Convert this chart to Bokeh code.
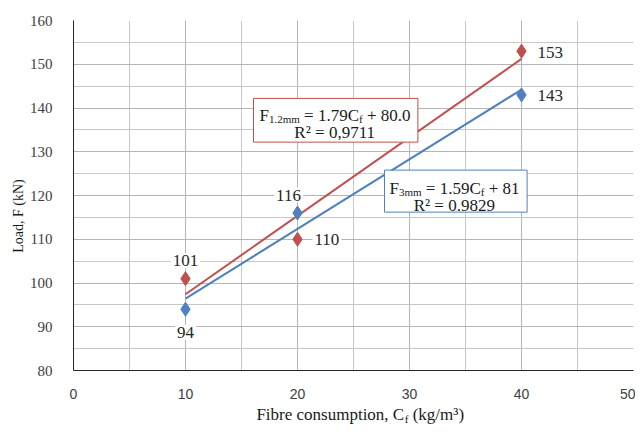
import numpy as np
from bokeh.plotting import figure
from bokeh.layouts import column, row
from bokeh.models import FixedTicker, Label, BoxAnnotation, Range1d
from bokeh.embed import file_html
from bokeh.resources import INLINE
from bokeh.core.properties import value

# ---- data ----
fibre = [10, 20, 40]
load_3mm = [94, 116, 143]
load_12mm = [101, 110, 153]
x_ticks = [0, 10, 20, 30, 40, 50]
y_ticks = [80, 90, 100, 110, 120, 130, 140, 150, 160]

RED = "#C0504D"
BLUE = "#4F81BD"
SERIF = "Liberation Serif"
TXT = "#1a1a1a"

TOP, BOT = 20, 32
p = figure(width=609, height=402, x_range=(0, 50), y_range=(80, 160),
           output_backend="svg", toolbar_location=None,
           min_border_left=45, min_border_right=2, min_border_top=TOP, min_border_bottom=BOT)
p.outline_line_color = None

p.xaxis.ticker = FixedTicker(ticks=x_ticks, minor_ticks=[5, 15, 25, 35, 45])
p.yaxis.ticker = FixedTicker(ticks=y_ticks, minor_ticks=[85, 95, 105, 115, 125, 135, 145, 155])
for ax in (p.xaxis, p.yaxis):
    ax.major_tick_line_color = None
    ax.minor_tick_line_color = None
    ax.axis_line_color = "#262626"
    ax.axis_line_width = 1
    ax.major_label_text_color = "#404040"
p.xaxis.major_label_text_font = "Liberation Sans"
p.xaxis.major_label_text_font_size = "14px"
p.xaxis.major_label_standoff = 12
p.yaxis.major_label_text_font = SERIF
p.yaxis.major_label_text_font_size = "15px"
p.yaxis.major_label_standoff = 15

for g in (p.xgrid, p.ygrid):
    g.grid_line_color = "#B5B5B5"
    g.grid_line_width = 1
    g.minor_grid_line_color = "#C8C8C8"
    g.minor_grid_line_width = 1

# ---- trend lines (least squares fit of each series) ----
xfit = np.array([min(fibre), max(fibre)], dtype=float)
b3 = np.polyfit(fibre, load_3mm, 1)
b12 = np.polyfit(fibre, load_12mm, 1)
p.line(xfit, np.polyval(b3, xfit), line_color=BLUE, line_width=2)
p.line(xfit, np.polyval(b12, xfit), line_color=RED, line_width=2)

# ---- markers ----
p.scatter(fibre, load_3mm, marker="diamond", size=14, fill_color=BLUE, line_color=BLUE)
p.scatter(fibre, load_12mm, marker="diamond", size=14, fill_color=RED, line_color=RED)

# ---- data labels ----
lab_style = dict(text_font=value(SERIF), text_font_size="17px", text_color="#262626",
                 text_baseline="middle", background_fill_color="white", padding=2)
blue_off = [(0, 23, "center"), (-9, -18, "center"), (14, 1, "left")]
red_off = [(0, -18, "center"), (15, 0, "left"), (14, 1, "left")]
for xs, ys, offs in ((fibre, load_3mm, blue_off), (fibre, load_12mm, red_off)):
    for i in range(len(xs)):
        dx, dy, al = offs[i]
        p.text(x=[xs[i]], y=[ys[i]], text=[str(ys[i])], x_offset=dx, y_offset=dy,
               text_align=al, **lab_style)

# ---- equation boxes ----
p.add_layout(BoxAnnotation(left=16.07, right=30.75, top=142.2, bottom=132.2,
                           fill_color="white", fill_alpha=1, line_color=RED,
                           line_alpha=1, line_width=1))
p.add_layout(BoxAnnotation(left=27.77, right=40.5, top=125.8, bottom=116.2,
                           fill_color="white", fill_alpha=1, line_color=BLUE,
                           line_alpha=1, line_width=1))

def lab(fig, text, x, y, dx=0, dy=0, size="17px", align="left", baseline="alphabetic", angle=0):
    fig.add_layout(Label(x=x, y=y, x_offset=dx, y_offset=dy, text=text, text_font=SERIF,
                         text_font_size=size, text_color=TXT, text_align=align,
                         text_baseline=baseline, angle=angle))

def equation(x0, y0, sub, rhs_a, rhs_b, w_sub):
    lab(p, "F", x0, y0, 0)
    lab(p, sub, x0, y0, 9.5, -4, size="11px")
    xa = 9.5 + w_sub + 4.25
    lab(p, rhs_a, x0, y0, xa)
    lab(p, "f", x0, y0, xa + 54.9, -4, size="11px")
    lab(p, rhs_b, x0, y0, xa + 54.9 + 3.7 + 4.25)

equation(16.60, 138.4, "1.2mm", "= 1.79C", "+ 80.0", 30.9)
lab(p, "R² = 0,9711", 23.32, 134.5, align="center")
equation(28.21, 121.7, "3mm", "= 1.59C", "+ 81", 22.6)
lab(p, "R² = 0.9829", 34.0, 117.8, align="center")

# ---- y axis title strip (left) ----
r = figure(width=26, height=402, x_range=Range1d(0, 1), y_range=p.y_range,
           output_backend="svg", toolbar_location=None,
           x_axis_location=None, y_axis_location=None,
           min_border_left=0, min_border_right=0, min_border_top=TOP, min_border_bottom=BOT)
r.outline_line_color = None
r.xgrid.visible = False
r.ygrid.visible = False
lab(r, "Load, F (kN)", 0.69, 115.3, size="14px", align="center", baseline="middle",
    angle=np.pi / 2)

# ---- x axis title strip (below) ----
q = figure(width=635, height=30, x_range=p.x_range, y_range=Range1d(0, 1),
           output_backend="svg", toolbar_location=None,
           x_axis_location=None, y_axis_location=None,
           min_border_left=71, min_border_right=2, min_border_top=0, min_border_bottom=0)
q.outline_line_color = None
q.xgrid.visible = False
q.ygrid.visible = False
lab(q, "Fibre consumption, C", 29.6, 0.6, align="right")
lab(q, "f", 29.6, 0.6, 0.5, -4, size="11px")
lab(q, "(kg/m³)", 29.6, 0.6, 8.5)

layout = column(row(r, p), q)
open("out.html", "w").write(file_html(layout, INLINE))
